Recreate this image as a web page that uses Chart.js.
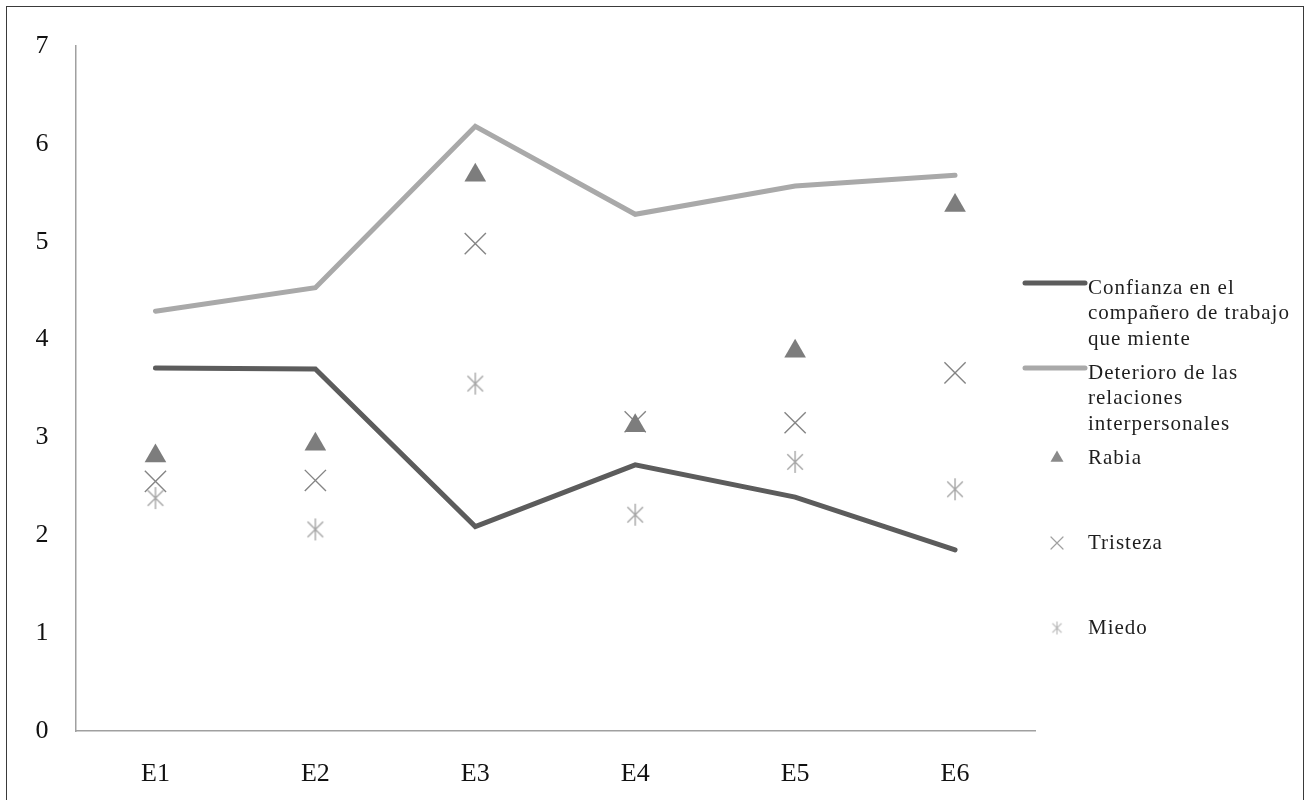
<!DOCTYPE html>
<html>
<head>
<meta charset="utf-8">
<script src="https://cdn.jsdelivr.net/npm/chart.js@4/dist/chart.umd.min.js"></script>
<style>
  html, body { margin: 0; padding: 0; background: #ffffff; }
  #wrap { position: relative; width: 1309px; height: 800px; overflow: hidden; }
  #frame { position: absolute; left: 6px; top: 6px; width: 1298px; height: 820px;
           border: 1.5px solid #3a3a3a; box-sizing: border-box; pointer-events: none; }
  canvas { position: absolute; left: 0; top: 0; }
</style>
</head>
<body>
<div id="wrap">
  <canvas id="c" width="1309" height="800"></canvas>
  <div id="frame"></div>
</div>
<script>
// Categories and series
const categories = ['E1', 'E2', 'E3', 'E4', 'E5', 'E6'];
const confianza  = [3.71, 3.70, 2.09, 2.72, 2.39, 1.85];
const deterioro  = [4.29, 4.53, 6.18, 5.28, 5.57, 5.68];
const rabia      = [2.81, 2.93, 5.68, 3.12, 3.88, 5.37];
const tristeza   = [2.55, 2.56, 4.98, 3.16, 3.15, 3.66];
const miedo      = [2.38, 2.06, 3.55, 2.21, 2.75, 2.47];

// Series names (legend lines)
const seriesNames = [
  ['Confianza en el', 'compañero de trabajo', 'que miente'],
  ['Deterioro de las', 'relaciones', 'interpersonales'],
  ['Rabia'],
  ['Tristeza'],
  ['Miedo']
];
const yTicks = [0, 1, 2, 3, 4, 5, 6, 7];

const FONT = "'Liberation Serif', 'Times New Roman', serif";

// Asterisk marker: vertical stroke plus a diagonal cross
function makeAsterisk(size, color, lw) {
  const cv = document.createElement('canvas');
  cv.width = size; cv.height = size;
  const g = cv.getContext('2d');
  const h = size / 2, r = size / 2 - 1;
  const d = r * Math.SQRT1_2;
  g.strokeStyle = color; g.lineWidth = lw;
  g.beginPath();
  g.moveTo(h, h - r); g.lineTo(h, h + r);
  g.moveTo(h - d, h - d); g.lineTo(h + d, h + d);
  g.moveTo(h - d, h + d); g.lineTo(h + d, h - d);
  g.stroke();
  return cv;
}
const asteriskBig = makeAsterisk(24, '#a6a6a6', 1.4);

// Multi-line legend at the right of the plot
const sideLegend = {
  id: 'sideLegend',
  afterDraw(chart) {
    const ctx = chart.ctx;
    const x0 = 1025, x1 = 1085, tx = 1088, mx = 1057;
    const firstY = 288, slot = 85, lineH = 25.5;
    ctx.save();
    ctx.font = '21px ' + FONT;
    if ('letterSpacing' in ctx) ctx.letterSpacing = '1px';
    ctx.textBaseline = 'middle';
    ctx.textAlign = 'left';
    chart.data.datasets.forEach((ds, i) => {
      const y = firstY + i * slot;
      const lines = seriesNames[i];
      ctx.fillStyle = '#1e1e1e';
      lines.forEach((t, k) => ctx.fillText(t, tx, y + k * lineH));
      if (ds.type === 'line' && ds.showLine !== false) {
        ctx.strokeStyle = ds.borderColor;
        ctx.lineWidth = ds.borderWidth;
        ctx.lineCap = 'round';
        ctx.beginPath(); ctx.moveTo(x0, y - 5); ctx.lineTo(x1, y - 5); ctx.stroke();
      } else if (ds.pointStyle === 'triangle') {
        const r = 7.5;
        ctx.fillStyle = '#8a8a8a';
        ctx.beginPath();
        ctx.moveTo(mx, y - r);
        ctx.lineTo(mx + r * 0.866, y + r / 2);
        ctx.lineTo(mx - r * 0.866, y + r / 2);
        ctx.closePath(); ctx.fill();
      } else if (ds.pointStyle === 'crossRot') {
        const d = 6;
        ctx.strokeStyle = '#a0a0a0'; ctx.lineWidth = 1.2;
        ctx.beginPath();
        ctx.moveTo(mx - d, y - d); ctx.lineTo(mx + d, y + d);
        ctx.moveTo(mx - d, y + d); ctx.lineTo(mx + d, y - d);
        ctx.stroke();
      } else {
        ctx.drawImage(makeAsterisk(15, '#b4b4b4', 1.1), mx - 7.5, y - 7.5);
      }
    });
    ctx.restore();
  }
};

new Chart(document.getElementById('c'), {
  data: {
    labels: categories,
    datasets: [
      { type: 'line', label: seriesNames[0].join(' '), data: confianza,
        borderColor: '#5c5c5c', borderWidth: 5, pointRadius: 0, tension: 0,
        borderCapStyle: 'round', borderJoinStyle: 'miter', order: 2 },
      { type: 'line', label: seriesNames[1].join(' '), data: deterioro,
        borderColor: '#a9a9a9', borderWidth: 5, pointRadius: 0, tension: 0,
        borderCapStyle: 'round', borderJoinStyle: 'miter', order: 3 },
      { type: 'line', label: seriesNames[2].join(' '), data: rabia, showLine: false,
        pointStyle: 'triangle', pointRadius: 12.5, backgroundColor: '#7d7d7d',
        borderColor: '#7d7d7d', borderWidth: 0, order: 0 },
      { type: 'line', label: seriesNames[3].join(' '), data: tristeza, showLine: false,
        pointStyle: 'crossRot', pointRadius: 15, borderColor: '#858585',
        backgroundColor: 'transparent', borderWidth: 1.4, order: 1 },
      { type: 'line', label: seriesNames[4].join(' '), data: miedo, showLine: false,
        pointStyle: asteriskBig, pointRadius: 12, borderWidth: 0, order: 1 }
    ]
  },
  options: {
    responsive: false,
    animation: false,
    events: [],
    layout: { padding: { left: 0, top: 46, right: 274, bottom: 0 } },
    plugins: { legend: { display: false }, tooltip: { enabled: false } },
    scales: {
      x: {
        type: 'category',
        offset: true,
        grid: { display: false, drawTicks: false },
        border: { display: true, color: '#a0a0a0', width: 1.5 },
        ticks: { color: '#111', font: { family: FONT, size: 26 }, padding: 28, maxRotation: 0 },
        afterFit(s) { s.height = 69; }
      },
      y: {
        min: 0, max: 7,
        grid: { display: false, drawTicks: false },
        border: { display: true, color: '#a0a0a0', width: 1.5 },
        afterBuildTicks(s) { s.ticks = yTicks.map(v => ({ value: v })); },
        ticks: { color: '#111', font: { family: FONT, size: 26 }, padding: 27 },
        afterFit(s) { s.width = 75.5; }
      }
    }
  },
  plugins: [sideLegend]
});
</script>
</body>
</html>
